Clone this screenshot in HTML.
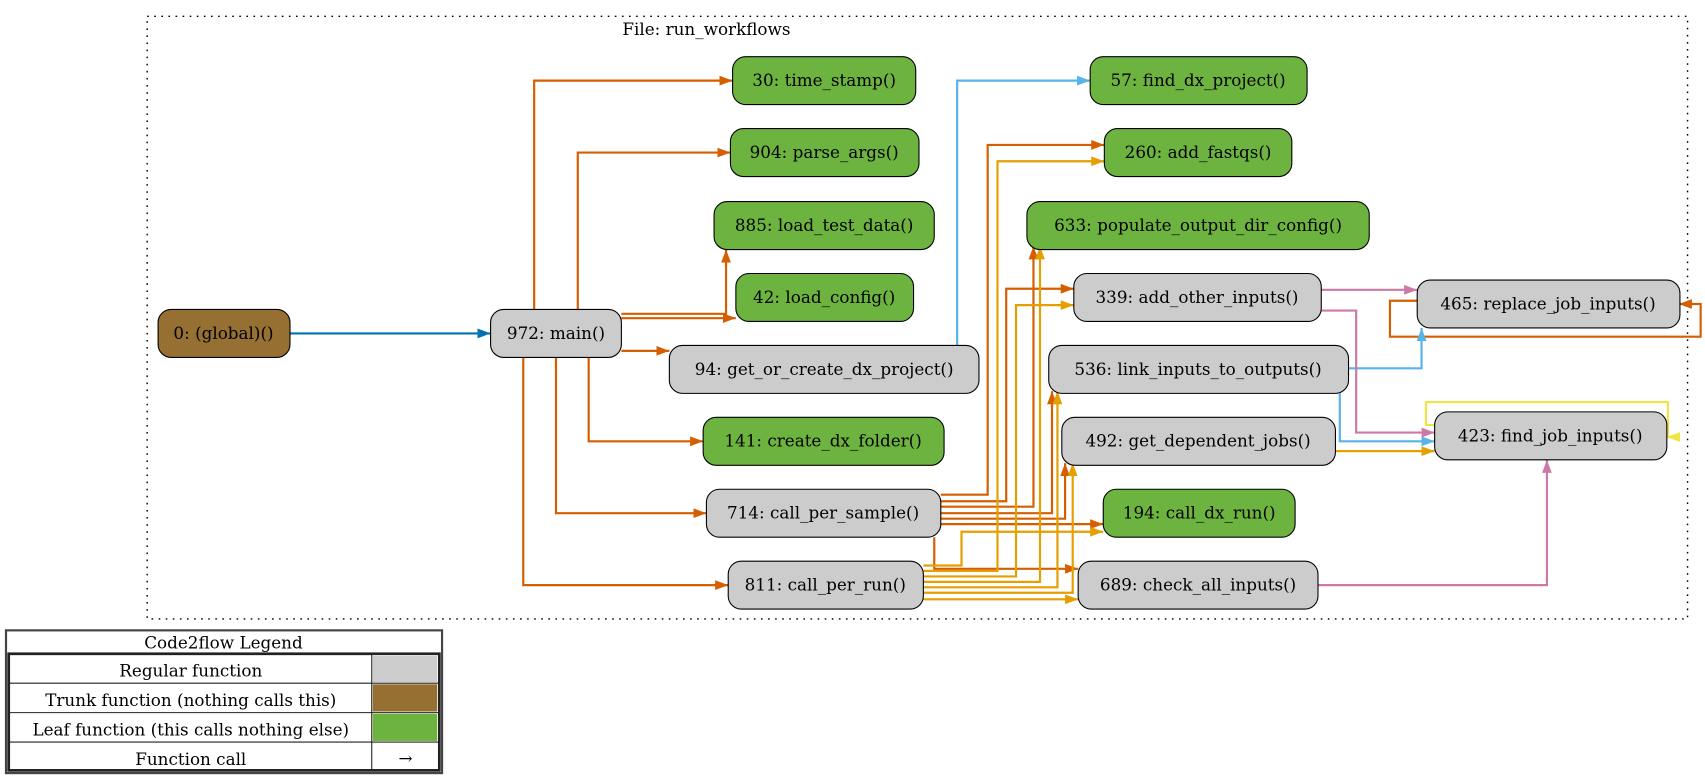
<!DOCTYPE html>
<html><head><meta charset="utf-8"><style>
html,body{margin:0;padding:0;background:#fff;}
svg{display:block;}
text{font-family:"DejaVu Serif","Liberation Serif",serif;font-size:15.4px;fill:#000;}
</style></head><body>
<svg width="1705" height="778" viewBox="0 0 1564 714" preserveAspectRatio="none" xmlns="http://www.w3.org/2000/svg">
<defs>
<marker id="mo" markerUnits="userSpaceOnUse" markerWidth="13" markerHeight="10" refX="12" refY="4.5" orient="auto"><path d="M0,0L12,4.5L0,9z" fill="#d55e00"/></marker>
<marker id="ma" markerUnits="userSpaceOnUse" markerWidth="13" markerHeight="10" refX="12" refY="4.5" orient="auto"><path d="M0,0L12,4.5L0,9z" fill="#e69f00"/></marker>
<marker id="ms" markerUnits="userSpaceOnUse" markerWidth="13" markerHeight="10" refX="12" refY="4.5" orient="auto"><path d="M0,0L12,4.5L0,9z" fill="#56b4e9"/></marker>
<marker id="mb" markerUnits="userSpaceOnUse" markerWidth="13" markerHeight="10" refX="12" refY="4.5" orient="auto"><path d="M0,0L12,4.5L0,9z" fill="#0072b2"/></marker>
<marker id="mp" markerUnits="userSpaceOnUse" markerWidth="13" markerHeight="10" refX="12" refY="4.5" orient="auto"><path d="M0,0L12,4.5L0,9z" fill="#cc79a7"/></marker>
<marker id="my" markerUnits="userSpaceOnUse" markerWidth="13" markerHeight="10" refX="12" refY="4.5" orient="auto"><path d="M0,0L12,4.5L0,9z" fill="#f0e442"/></marker>
</defs>
<rect x="135" y="15" width="1413" height="553" fill="none" stroke="#000" stroke-width="1.3" stroke-dasharray="1.5,5"/>
<text x="648" y="32" text-anchor="middle">File: run_workflows</text>

<g fill="none" stroke-width="2">
<polyline stroke="#0072b2" marker-end="url(#mb)" points="266,306 450,306"/>
<g stroke="#d55e00" marker-end="url(#mo)">
<polyline points="490,284 490,74 672,74"/>
<polyline points="530,284 530,140 670,140"/>
<polyline points="570,288 666,288 666,229"/>
<polyline points="570,292 675,292"/>
<polyline points="570,322 614,322"/>
<polyline points="540,328 540,405 645,405"/>
<polyline points="510,328 510,471 648,471"/>
<polyline points="480,328 480,537 668,537"/>
<polyline points="863,454 906,454 906,133 1013,133"/>
<polyline points="863,460 923,460 923,265 985,265"/>
<polyline points="863,465 948,465 948,226"/>
<polyline points="863,471 965,471 965,359"/>
<polyline points="863,476 977,476 977,425"/>
<polyline points="863,481 1012,481"/>
<polyline points="857,493 857,522 989,522"/>
<polyline points="1300,276 1275,276 1275,309 1560,309 1560,279 1540,279"/>
</g>
<g stroke="#e69f00" marker-end="url(#ma)">
<polyline points="847,519 882,519 882,488 1012,488"/>
<polyline points="847,524 915,524 915,148 1013,148"/>
<polyline points="847,529 932,529 932,280 985,280"/>
<polyline points="847,534 954,534 954,226"/>
<polyline points="847,539 970,539 970,359"/>
<polyline points="847,544 984,544 984,425"/>
<polyline points="847,550 989,550"/>
<polyline points="1225,414 1316,414"/>
</g>
<g stroke="#56b4e9" marker-end="url(#ms)">
<polyline points="878,317 878,74 1000,74"/>
<polyline points="1237,338 1304,338 1304,301"/>
<polyline points="1229,361 1229,405 1316,405"/>
</g>
<g stroke="#cc79a7" marker-end="url(#mp)">
<polyline points="1212,266 1300,266"/>
<polyline points="1212,285 1244,285 1244,397 1316,397"/>
<polyline points="1209,537 1419,537 1419,422"/>
</g>
<polyline stroke="#f0e442" marker-end="url(#my)" points="1316,390 1308,390 1308,369 1530,369 1530,401 1529,401"/>
</g>

<g stroke="#000" stroke-width="1">
<rect x="145" y="284" width="121" height="44" rx="12" fill="#966f33"/>
<rect x="450" y="284" width="120" height="44" rx="12" fill="#cccccc"/>
<rect x="672" y="52" width="168" height="44" rx="12" fill="#6db33f"/>
<rect x="670" y="118" width="173" height="44" rx="12" fill="#6db33f"/>
<rect x="655" y="185" width="202" height="44" rx="12" fill="#6db33f"/>
<rect x="675" y="251" width="163" height="44" rx="12" fill="#6db33f"/>
<rect x="614" y="317" width="284" height="44" rx="12" fill="#cccccc"/>
<rect x="645" y="383" width="221" height="44" rx="12" fill="#6db33f"/>
<rect x="648" y="449" width="215" height="44" rx="12" fill="#cccccc"/>
<rect x="668" y="515" width="179" height="44" rx="12" fill="#cccccc"/>
<rect x="1000" y="52" width="199" height="44" rx="12" fill="#6db33f"/>
<rect x="1013" y="118" width="172" height="44" rx="12" fill="#6db33f"/>
<rect x="942" y="185" width="314" height="44" rx="12" fill="#6db33f"/>
<rect x="985" y="251" width="227" height="44" rx="12" fill="#cccccc"/>
<rect x="962" y="317" width="275" height="44" rx="12" fill="#cccccc"/>
<rect x="974" y="383" width="251" height="44" rx="12" fill="#cccccc"/>
<rect x="1012" y="449" width="176" height="44" rx="12" fill="#6db33f"/>
<rect x="989" y="515" width="220" height="44" rx="12" fill="#cccccc"/>
<rect x="1300" y="257" width="241" height="44" rx="12" fill="#cccccc"/>
<rect x="1316" y="378" width="213" height="44" rx="12" fill="#cccccc"/>
</g>
<g text-anchor="middle">
<text x="205" y="311">0: (global)()</text>
<text x="510" y="311">972: main()</text>
<text x="756" y="79">30: time_stamp()</text>
<text x="756" y="145">904: parse_args()</text>
<text x="756" y="212">885: load_test_data()</text>
<text x="756" y="278">42: load_config()</text>
<text x="756" y="344">94: get_or_create_dx_project()</text>
<text x="755" y="410">141: create_dx_folder()</text>
<text x="755" y="476">714: call_per_sample()</text>
<text x="757" y="542">811: call_per_run()</text>
<text x="1099" y="79">57: find_dx_project()</text>
<text x="1099" y="145">260: add_fastqs()</text>
<text x="1099" y="212">633: populate_output_dir_config()</text>
<text x="1098" y="278">339: add_other_inputs()</text>
<text x="1099" y="344">536: link_inputs_to_outputs()</text>
<text x="1099" y="410">492: get_dependent_jobs()</text>
<text x="1100" y="476">194: call_dx_run()</text>
<text x="1099" y="542">689: check_all_inputs()</text>
<text x="1420" y="284">465: replace_job_inputs()</text>
<text x="1422" y="405">423: find_job_inputs()</text>
</g>

<g>
<rect x="5.5" y="578.5" width="400" height="131" fill="#fff" stroke="#444" stroke-width="2"/>
<rect x="8" y="600" width="395" height="107" fill="none" stroke="#222" stroke-width="2.5"/>
<g stroke="#222" stroke-width="1">
<line x1="8" y1="627" x2="403" y2="627"/>
<line x1="8" y1="654" x2="403" y2="654"/>
<line x1="8" y1="681" x2="403" y2="681"/>
<line x1="341" y1="600" x2="341" y2="707"/>
</g>
<rect x="342" y="602" width="59" height="24" fill="#cccccc"/>
<rect x="342" y="628" width="59" height="25" fill="#966f33"/>
<rect x="342" y="655" width="59" height="25" fill="#6db33f"/>
<g text-anchor="middle">
<text x="205" y="595">Code2flow Legend</text>
<text x="175" y="621">Regular function</text>
<text x="175" y="648">Trunk function (nothing calls this)</text>
<text x="175" y="675">Leaf function (this calls nothing else)</text>
<text x="175" y="702">Function call</text>
<text x="372" y="701">→</text>
</g>
</g>
</svg>
</body></html>
